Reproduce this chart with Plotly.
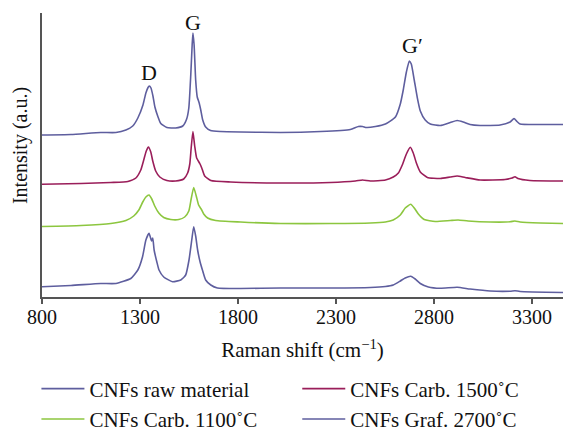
import plotly.graph_objects as go

# ---------------- data ----------------
# Raman shift (cm^-1) and stacked intensity (a.u.) for each spectrum
graf2700_x = [800, 948, 1100, 1177, 1228, 1263, 1289, 1315, 1330, 1341, 1347, 1356, 1366, 1376,
              1392, 1406, 1437, 1482, 1518, 1538, 1549, 1559, 1566, 1570, 1576, 1584, 1592, 1602,
              1610, 1620, 1635, 1660, 1711, 1813, 2017, 2221, 2373, 2414, 2435, 2455, 2501, 2552,
              2603, 2628, 2643, 2659, 2674, 2684, 2699, 2715, 2730, 2755, 2781, 2832, 2883, 2918,
              2949, 2984, 3035, 3137, 3188, 3208, 3223, 3239, 3341, 3458]
graf2700_y = [162, 162.5, 164.5, 164.5, 167, 171, 179, 192, 204, 209.5, 211, 209, 201, 190,
              180, 173.5, 169.5, 169, 171, 178, 189, 222, 252, 264, 252, 217, 200, 194,
              187, 177, 170, 166.5, 165.5, 165, 164.5, 165.5, 167.5, 170.5, 170.5, 169.5, 170.5, 173,
              180, 193, 207, 225, 236, 233, 217, 199, 186, 177, 173, 171.5, 174.5, 176.5,
              175, 172.5, 171.5, 172, 175, 178.5, 175.5, 173, 172.5, 172.5]

carb1500_x = [800, 999, 1151, 1238, 1279, 1304, 1319, 1332, 1343, 1355, 1365, 1380, 1401, 1437,
              1482, 1523, 1543, 1554, 1561, 1570, 1579, 1589, 1605, 1615, 1630, 1661, 1762, 2017,
              2272, 2399, 2435, 2475, 2552, 2592, 2618, 2638, 2659, 2679, 2694, 2710, 2730, 2766,
              2832, 2883, 2918, 2959, 3035, 3162, 3198, 3213, 3228, 3289, 3458]
carb1500_y = [112.7, 113.5, 114.5, 115.5, 119, 127, 137, 146, 150, 145, 136, 126, 120, 116.5,
              116, 118, 124, 133, 149, 165.5, 151, 139, 133.5, 129, 121, 116.5, 115, 114,
              114.5, 116, 117, 116, 117, 120, 124, 132, 143, 149.7, 144, 134, 125, 119.5,
              118.5, 120, 121, 119.5, 117, 117.5, 119, 120.3, 118.5, 116.5, 116]

carb1100_x = [800, 999, 1151, 1228, 1268, 1294, 1314, 1330, 1346, 1360, 1375, 1396, 1421, 1457,
              1498, 1528, 1549, 1561, 1574, 1587, 1599, 1612, 1625, 1645, 1686, 1813, 2017, 2272,
              2475, 2552, 2592, 2628, 2653, 2681, 2699, 2720, 2750, 2806, 2883, 2923, 2974, 3086,
              3188, 3213, 3239, 3341, 3458]
carb1100_y = [70.5, 71.5, 73.5, 76.5, 81, 87, 95, 100, 102, 98, 91, 84, 79.5, 77.5,
              77.5, 80, 86, 98, 109.5, 101, 92, 88, 83, 79, 76.5, 75, 73.5, 73.5,
              74, 75, 77, 82, 89, 92.7, 89, 83, 77.5, 75.5, 76.5, 77, 76, 75,
              75.2, 76, 75, 74, 73.5]

raw_x = [800, 948, 1100, 1177, 1253, 1289, 1313, 1330, 1346, 1359, 1365, 1372, 1386, 1397,
         1421, 1466, 1508, 1533, 1550, 1564, 1574, 1584, 1594, 1606, 1620, 1635, 1661, 1695,
         1813, 2017, 2272, 2475, 2552, 2592, 2628, 2653, 2681, 2704, 2730, 2771, 2832, 2918,
         2984, 3086, 3188, 3213, 3239, 3458]
raw_y = [10.3, 11.5, 13.5, 13.5, 18.5, 27, 40.3, 57, 63.7, 56, 59, 47, 35, 27,
         20, 15.3, 17, 22, 37, 57, 70.3, 61, 47, 35.5, 26, 17, 12, 9,
         8.5, 9, 9, 9.5, 10.5, 12, 16, 19, 20.7, 18, 13.5, 10, 8.7, 9.7,
         8, 6, 5.8, 6.3, 5.5, 4.5]

series_names = ["CNFs raw material", "CNFs Carb. 1500\u02daC",
                "CNFs Carb. 1100\u02daC", "CNFs Graf. 2700\u02daC"]
tick_values = [800, 1300, 1800, 2300, 2800, 3300]
peak_labels = ["D", "G", "G\u2032"]
peak_pos_x = [1347, 1570, 2690]
peak_pos_y = [225, 275, 252]

# ---------------- figure ----------------
BLUE = "#5e5e9e"
CRIMSON = "#9a1e5a"
GREEN = "#8cc63f"
FONT = "Liberation Serif"

fig = go.Figure()
traces = [
    (raw_x, raw_y, series_names[0], BLUE, "legend"),
    (carb1500_x, carb1500_y, series_names[1], CRIMSON, "legend2"),
    (carb1100_x, carb1100_y, series_names[2], GREEN, "legend"),
    (graf2700_x, graf2700_y, series_names[3], BLUE, "legend2"),
]
for xs, ys, name, col, lg in traces:
    fig.add_trace(go.Scatter(x=xs, y=ys, name=name, mode="lines", legend=lg,
                             line=dict(color=col, width=1.6, shape="spline", smoothing=0.5)))

for t, px, py in zip(peak_labels, peak_pos_x, peak_pos_y):
    fig.add_annotation(x=px, y=py, text=t, showarrow=False,
                       font=dict(family=FONT, size=22, color="#111"))

# y-axis title as a rotated annotation left of the axis
fig.add_annotation(xref="paper", yref="paper", x=-0.04, y=0.532,
                   text="Intensity (a.u.)", textangle=-90, showarrow=False,
                   xanchor="center", yanchor="middle",
                   font=dict(family=FONT, size=20, color="#111"))

legend_common = dict(orientation="v", xref="container", yref="container",
                     y=0.145, xanchor="left", yanchor="top",
                     font=dict(family=FONT, size=21, color="#111"),
                     tracegroupgap=0, itemwidth=43, bgcolor="rgba(0,0,0,0)")

fig.update_layout(
    width=563, height=431,
    margin=dict(l=42, r=0, t=13, b=134, autoexpand=False),
    paper_bgcolor="white", plot_bgcolor="white",
    font=dict(family=FONT, size=21, color="#111"),
    showlegend=True,
    legend=dict(x=0.0647, **legend_common),
    legend2=dict(x=0.528, **legend_common),
)
fig.update_xaxes(range=[800, 3458], tickvals=tick_values,
                 ticktext=[str(v) for v in tick_values], automargin=False,
                 showgrid=False, zeroline=False, showline=True,
                 linecolor="#555", linewidth=1.5, ticks="outside",
                 ticklen=5, tickwidth=1.5, tickcolor="#555",
                 ticklabelstandoff=-4,
                 tickfont=dict(family=FONT, size=20, color="#111"),
                 title=dict(text="Raman shift (cm<sup>\u22121</sup>)", standoff=16,
                            font=dict(family=FONT, size=21, color="#111")))
fig.update_yaxes(range=[0, 284], showgrid=False, zeroline=False, showline=True,
                 automargin=False,
                 linecolor="#555", linewidth=1.5, showticklabels=False, ticks="")

fig.write_html("out.html", config={"displayModeBar": False},
               post_script="document.body.style.margin='0px';")
